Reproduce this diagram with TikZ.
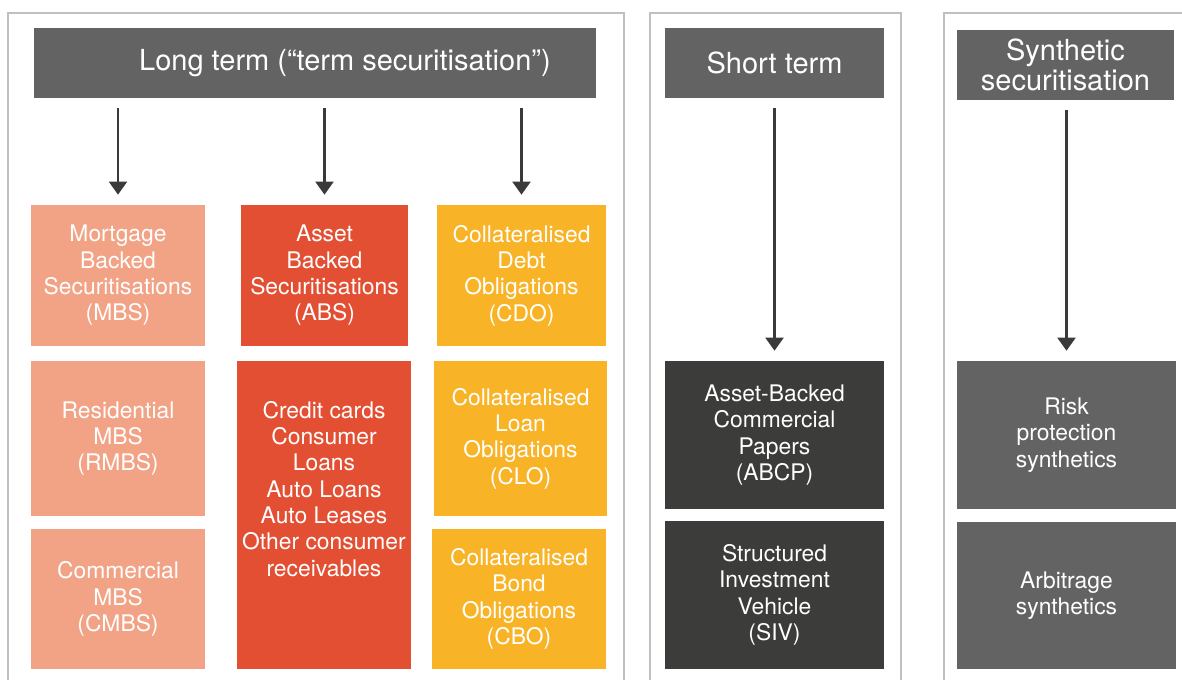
\documentclass[tikz,border=0pt]{standalone}
\usepackage{fontspec}
\setmainfont{TeX Gyre Heros}
\usepackage{tikz}
\usetikzlibrary{arrows.meta}
\definecolor{mbscol}{HTML}{F2A386}
\definecolor{abscol}{HTML}{E34F33}
\definecolor{cdocol}{HTML}{F8B326}
\definecolor{stcol}{HTML}{3C3C3B}
\definecolor{hdcol}{HTML}{636363}
\definecolor{pnlcol}{HTML}{C0C0C0}
\definecolor{arrcol}{HTML}{3A3A3A}
\newcommand{\bxfont}{\fontsize{13}{15}\selectfont}
\newcommand{\hdfont}{\fontsize{16.5}{17.5}\selectfont}
\tikzstyle{bx}=[rectangle,inner sep=0pt,align=center,text=white,font=\bxfont]
\tikzstyle{hd}=[bx,fill=hdcol,font=\hdfont,minimum height=1.4cm]
\tikzstyle{pnl}=[draw=pnlcol,line width=1.4pt]
\tikzstyle{arr}=[draw=arrcol,line width=1.2pt,-{Triangle[width=0.36cm,length=0.26cm]},shorten <=0.2cm,shorten >=0.2cm]

\begin{document}
\begin{tikzpicture}[x=0.02cm,y=-0.02cm]
	\useasboundingbox (0,0) rectangle (1182,679);
	% panels
	\draw[pnl] (8,690) |- (624,13) -- (624,690);
	\draw[pnl] (650,690) |- (901,13) -- (901,690);
	\draw[pnl] (944,690) |- (1190,13);
	% headers
	\node[hd,minimum width=11.24cm] (hdlong) at (315,63) {\hspace*{1.2cm}Long term (“term securitisation”)};
	\node[hd,minimum width=4.38cm] (hdshort) at (774.5,63) {Short term};
	\node[hd,minimum width=4.34cm] (hdsyn) at (1065.5,65) {Synthetic\\securitisation};
	% long term
	\node[bx,fill=mbscol,minimum width=3.48cm,minimum height=2.82cm] (mbs) at (118,275.5) {Mortgage\\Backed\\Securitisations\\(MBS)};
	\node[bx,fill=mbscol,minimum width=3.48cm,minimum height=3.1cm] (rmbs) at (118,438.5) {Residential\\MBS\\(RMBS)};
	\node[bx,fill=mbscol,minimum width=3.48cm,minimum height=2.8cm] (cmbs) at (118,599) {Commercial\\MBS\\(CMBS)};
	\node[bx,fill=abscol,minimum width=3.34cm,minimum height=2.82cm] (abs) at (324.5,275.5) {Asset\\Backed\\Securitisations\\(ABS)};
	\node[bx,fill=abscol,minimum width=3.48cm,minimum height=6.16cm] (abslist) at (324,515) {};
	\node[bx,anchor=north] (abstxt) at ([yshift=-0.8cm]abslist.north) {Credit cards\\Consumer\\Loans\\Auto Loans\\Auto Leases\\Other consumer\\receivables};
	\node[bx,fill=cdocol,minimum width=3.38cm,minimum height=2.82cm] (cdo) at (521.5,275.5) {Collateralised\\Debt\\Obligations\\(CDO)};
	\node[bx,fill=cdocol,minimum width=3.46cm,minimum height=3.1cm] (clo) at (520.5,438.5) {Collateralised\\Loan\\Obligations\\(CLO)};
	\node[bx,fill=cdocol,minimum width=3.48cm,minimum height=2.8cm] (cbo) at (519,599) {Collateralised\\Bond\\Obligations\\(CBO)};
	% short term
	\node[bx,fill=stcol,minimum width=4.38cm,minimum height=2.96cm] (abcp) at (774.5,435) {Asset-Backed\\Commercial\\Papers\\(ABCP)};
	\node[bx,fill=stcol,minimum width=4.38cm,minimum height=2.96cm] (siv) at (774.5,595) {Structured\\Investment\\Vehicle\\(SIV)};
	% synthetic
	\node[bx,fill=hdcol,minimum width=4.38cm,minimum height=2.96cm] (risk) at (1066.5,435) {Risk\\protection\\synthetics};
	\node[bx,fill=hdcol,minimum width=4.38cm,minimum height=2.94cm] (arb) at (1066.5,595.5) {Arbitrage\\synthetics};
	% arrows
	\draw[arr] (hdlong.south -| mbs.north) -- (mbs.north);
	\draw[arr] (hdlong.south -| abs.north) -- (abs.north);
	\draw[arr] (hdlong.south -| cdo.north) -- (cdo.north);
	\draw[arr] (hdshort.south -| abcp.north) -- (abcp.north);
	\draw[arr] (hdsyn.south -| risk.north) -- (risk.north);
\end{tikzpicture}
\end{document}
